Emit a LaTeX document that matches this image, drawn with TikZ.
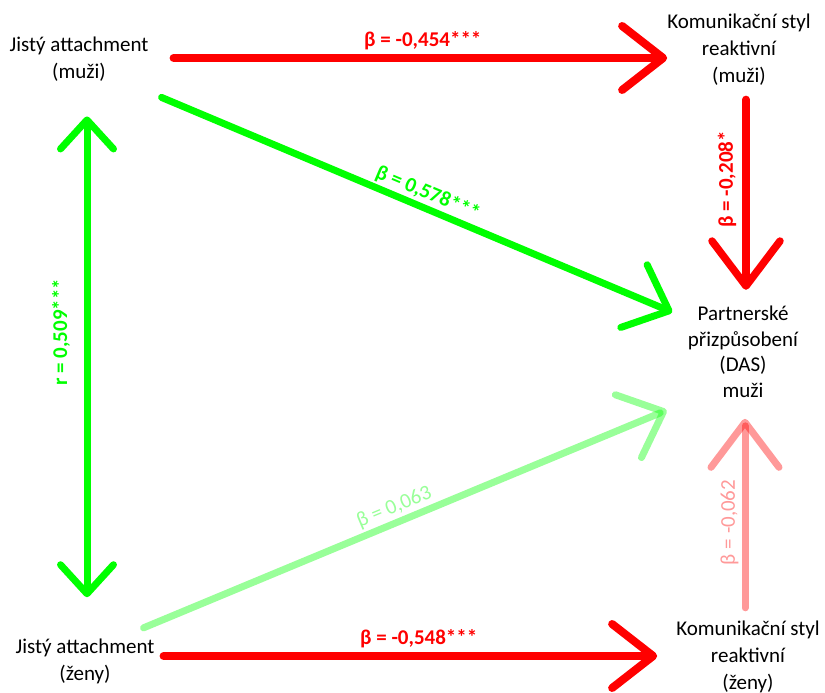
\documentclass[tikz,border=0pt]{standalone}
\usepackage{fontspec}
\setmainfont{Carlito}
\usetikzlibrary{arrows.meta,calc}
\definecolor{cred}{RGB}{255,0,0}
\definecolor{cgreen}{RGB}{0,255,0}
\begin{document}
\begin{tikzpicture}[x=1pt,y=-1pt,
  box/.style={inner sep=0pt, align=center, font=\fontsize{21}{27}\selectfont},
  wire/.style={line cap=round, line join=round},
  redwire/.style={wire, draw=cred, line width=8pt},
  greenwire/.style={wire, draw=cgreen, line width=7pt},
  faintgreen/.style={wire, draw=cgreen, draw opacity=.4, line width=7pt},
  faintred/.style={wire, draw=cred, draw opacity=.4, line width=7pt},
  lab/.style={inner xsep=0pt, font=\bfseries\fontsize{21}{25}\selectfont},
  lablight/.style={inner xsep=0pt, font=\fontsize{21}{25}\selectfont},
  tipA/.style={-{Straight Barb[round,length=41pt,width=64pt]}},
  tipB/.style={-{Straight Barb[round,length=45pt,width=68pt]}},
  tipC/.style={-{Straight Barb[round,length=38pt,width=68pt]}},
  tipD/.style={{Straight Barb[round,length=29pt,width=53pt]}-{Straight Barb[round,length=29pt,width=53pt]}},
]
\useasboundingbox (0,0) rectangle (825,693);

% variables
\node[box] (A) at (79,59) {Jistý attachment\\(muži)};
\node[box] (B) at (739,49.5) {Komunikační styl\\reaktivní\\(muži)};
\node[box, font=\fontsize{21}{25.5}\selectfont] (C) at (743,352) {Partnerské\\přizpůsobení\\(DAS)\\muži};
\node[box] (D) at (748,657) {Komunikační styl\\reaktivní\\(ženy)};
\node[box] (E) at (85,661.5) {Jistý attachment\\(ženy)};

% paths among the variables
\draw[redwire, tipA] ($(A.east)+(25,-1)$) --
  node[lab, text=cred, pos=.505, above, inner ysep=4.5pt] {β = -0,454***}
  ($(A.east -| B.west)+(0,-1)$);

\draw[redwire, tipA] ($(E.east)+(9,-5.5)$) --
  node[lab, text=cred, pos=.517, above, inner ysep=4.5pt] {β = -0,548***}
  ($(E.east -| D.west)+(-19,-5.5)$);

\draw[redwire, line width=7.5pt, tipB] ($(B.south)+(7,14)$) --
  node[lab, text=cred, pos=.42, rotate=90, anchor=south, inner ysep=6pt] {β = -0,208*}
  ($(B.south |- C.north)+(7,-16.4)$);

\draw[faintred, tipB] ($(D.north)+(-3,-13)$) --
  node[lablight, text=cred, text opacity=.4, pos=.452, rotate=90, anchor=south, inner ysep=3pt] {β = -0,062}
  ($(D.north |- C.south)+(-3,21)$);

\draw[greenwire, tipC] ($(A.south east)+(13,16)$) --
  node[lab, text=cgreen, pos=.51, sloped, above, inner ysep=2pt] {β = 0,578***}
  ($(C.north west)+(-15.5,6)$);

\draw[faintgreen, tipC] ($(E.north east)+(-11,-11)$) --
  node[lablight, text=cgreen, text opacity=.4, pos=.49, sloped, above, inner ysep=2pt] {β = 0,063}
  ($(C.south west)+(-21,12.4)$);

\draw[greenwire, tipD] ($(A.south)+(8,35)$) --
  node[lab, text=cgreen, pos=.449, rotate=90, anchor=south, inner ysep=13.5pt] {r = 0,509***}
  ($(A.south |- E.north)+(8,-41.6)$);
\end{tikzpicture}
\end{document}
